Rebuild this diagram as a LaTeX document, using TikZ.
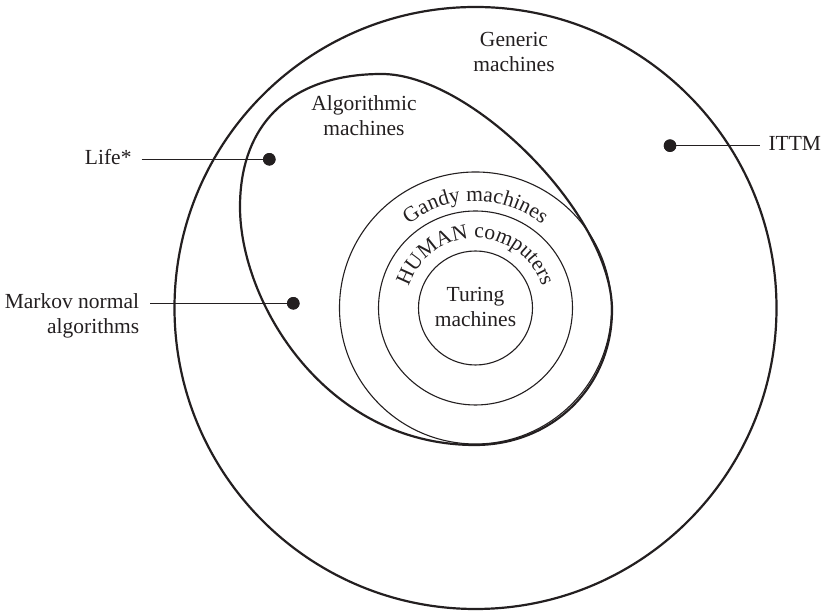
\documentclass[tikz,border=0pt]{standalone}
\usepackage{fontspec}
\setmainfont{Liberation Serif}
\usetikzlibrary{decorations.text}
\definecolor{ink}{RGB}{35,31,32}
\newcommand\lblfont{\fontsize{21.5}{25}\selectfont}
\begin{document}
\begin{tikzpicture}[x=1pt,y=1pt,
  thickline/.style={draw=ink, line width=2.2pt},
  thinline/.style={draw=ink, line width=1.1pt},
  dot/.style={circle, fill=ink, inner sep=0pt, minimum size=12.5pt},
  lbl/.style={inner sep=0pt, text=ink, font=\lblfont},
  arclbl/.style={decorate, decoration={text along path, text align=center, text={#1}}}]
\useasboundingbox (0,0) rectangle (825,612);
\coordinate (C) at (475.5,304);
% sets
\draw[thickline] (C) circle[radius=301];
\draw[thinline] (C) circle[radius=136];
\draw[thinline] (C) circle[radius=97];
\draw[thinline] (C) circle[radius=57];
\draw[thickline] (381.7,538) .. controls (471.7,538) and (612,397) .. (612,302)
  .. controls (612,225) and (552,167) .. (475,167)
  .. controls (325,167) and (240,310) .. (240,405)
  .. controls (240,492) and (294.7,538) .. cycle;
% curved labels
\path[arclbl={|\lblfont\color{ink}|Gandy machines}]
  ([shift={(160:107)}]C) arc[start angle=160, end angle=20, radius=107];
\path[arclbl={|\lblfont\color{ink}|HUMAN computers}]
  ([shift={(180:70)}]C) arc[start angle=180, end angle=0, radius=70];
% labels
\node[lbl, anchor=base] (generic) at (514,540.3)
  {\begin{tabular}[b]{@{}c@{}}Generic\\machines\end{tabular}};
\node[lbl, anchor=base] (algo) at (364,476)
  {\begin{tabular}[b]{@{}c@{}}Algorithmic\\machines\end{tabular}};
\node[lbl, anchor=base] (turing) at (475.5,285.3)
  {\begin{tabular}[b]{@{}c@{}}Turing\\machines\end{tabular}};
\node[lbl, anchor=base east] (life) at (131.7,447.7) {Life*};
\node[lbl, anchor=base east] (markov) at (139.3,278)
  {\begin{tabular}[b]{@{}r@{}}Markov normal\\algorithms\end{tabular}};
\node[lbl, anchor=base west] (ittm) at (768.3,461) {ITTM};
% connectors
\coordinate (lifeend) at (141.7,452.7);
\coordinate (markovend) at (150,308.7);
\coordinate (ittmend) at (760,466.3);
\node[dot] (lifedot) at (269.3,452.7) {};
\node[dot] (markovdot) at (293.3,308.7) {};
\node[dot] (ittmdot) at (670,466.3) {};
\draw[thinline] (lifeend) -- (lifedot.center);
\draw[thinline] (markovend) -- (markovdot.center);
\draw[thinline] (ittmdot.center) -- (ittmend);
\node[dot] at (lifedot) {};
\node[dot] at (markovdot) {};
\node[dot] at (ittmdot) {};
\end{tikzpicture}
\end{document}
